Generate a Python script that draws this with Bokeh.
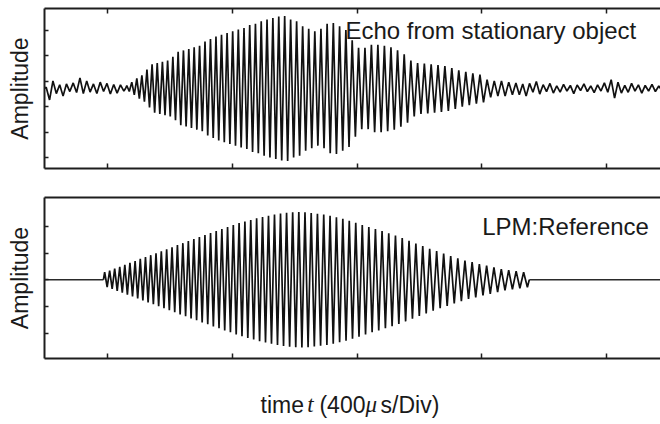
from bokeh.plotting import figure
from bokeh.models import LinearAxis, FixedTicker, Range1d, Label
from bokeh.layouts import column
from bokeh.embed import file_html
from bokeh.resources import INLINE

# ---------------- data (time in microseconds, 400 us per division) ----------------
x_ticks = [400, 800, 1200, 1600, 2000]
top_y_ticks = [-2.72, -1.72, -0.72, 0.28, 1.28, 2.28]
bottom_y_ticks = [-2, -1, 0, 1, 2]

# LPM chirp: first-cycle period (us) and relative period growth per cycle
chirp_period0 = 16.0
chirp_growth = 0.00607

# reference (LPM) signal: start time and per-cycle peak amplitude
ref_start = 386.0
ref_amp = [0.28, 0.34, 0.42, 0.48, 0.56, 0.63, 0.70, 0.78, 0.85, 0.92,
           0.99, 1.07, 1.14, 1.22, 1.30, 1.37, 1.45, 1.52, 1.60, 1.67,
           1.75, 1.82, 1.90, 1.97, 2.05, 2.12, 2.18, 2.24, 2.30, 2.35,
           2.40, 2.44, 2.48, 2.51, 2.53, 2.54, 2.53, 2.50, 2.47, 2.44,
           2.40, 2.34, 2.28, 2.21, 2.13, 2.05, 1.97, 1.90, 1.82, 1.74,
           1.66, 1.56, 1.46, 1.36, 1.26, 1.16, 1.07, 0.98, 0.89, 0.80,
           0.72, 0.66, 0.59, 0.53, 0.46, 0.40, 0.36, 0.32, 0.28]

# echo from stationary object: start time and per-cycle peak amplitude
echo_start = 457.0
echo_amp = [0.12, 0.25, 0.40, 0.52, 0.75, 0.95, 1.00, 1.05, 1.10, 1.25,
            1.45, 1.50, 1.55, 1.62, 1.68, 1.85, 1.95, 2.05, 2.12, 2.18,
            2.25, 2.32, 2.38, 2.50, 2.55, 2.65, 2.72, 2.78, 2.83, 2.85,
            2.72, 2.65, 2.45, 2.35, 2.25, 2.35, 2.55, 2.58, 2.45, 2.30,
            1.90, 1.60, 1.60, 1.72, 1.72, 1.68, 1.62, 1.50, 1.35, 1.10,
            1.00, 0.98, 0.95, 0.92, 0.88, 0.80, 0.72, 0.66, 0.60, 0.55,
            0.35, 0.30, 0.30, 0.25]

# background noise before and after the echo (half-cycle extremes)
noise_pre = [0.05, -0.45, 0.30, -0.20, 0.15, -0.30, 0.18, -0.12, 0.22, -0.16,
             0.42, -0.20, 0.30, -0.14, 0.18, -0.20, 0.25, -0.12, 0.20, -0.22,
             0.16, -0.18, 0.14, -0.10]
noise_post = [0.22, -0.25, 0.18, -0.30, 0.20, -0.15, 0.28, -0.22, 0.15, -0.12,
              0.20, -0.18, 0.10, -0.14, 0.16, -0.10, 0.12, -0.20, 0.14, -0.08,
              0.18, -0.12, 0.10, -0.16, 0.14, -0.10, 0.22, -0.15, 0.35, -0.38,
              0.25, -0.18, 0.12, -0.15, 0.20, -0.10, 0.14, -0.18, 0.12, -0.10,
              0.16, -0.12, 0.10]

# x-axis label pieces: (time position, text, font, style)
xlabel_pieces = [
    (890, "time", "Liberation Sans", "normal"),
    (1040, "t", "Liberation Serif", "italic"),
    (1079, "(400", "Liberation Sans", "normal"),
    (1227, "\u03bc", "Liberation Serif", "italic"),
    (1275, "s/Div)", "Liberation Sans", "normal"),
]

X0, X1 = 197.0, 2173.0
TRACE = "#111111"
AXC = "#1e1e1e"
TXT = "#1a1a1a"


def chirp_points(t_start, amps):
    ts, ys = [t_start], [0.0]
    t, T = t_start, chirp_period0
    for a in amps:
        ts += [t + T / 4, t + 3 * T / 4]
        ys += [a, -a]
        t += T
        T *= (1 + chirp_growth)
    ts.append(t)
    ys.append(0.0)
    return ts, ys, t


def noise_points(t0, t1, vals):
    dt = (t1 - t0) / len(vals)
    return [t0 + (i + 0.5) * dt for i in range(len(vals))], list(vals)


def style_axis(ax, ticks, tick_len=5):
    ax.ticker = FixedTicker(ticks=ticks)
    ax.minor_tick_line_color = None
    ax.major_tick_in = tick_len
    ax.major_tick_out = 0
    ax.major_label_overrides = {t: "" for t in ticks}
    ax.major_label_text_font_size = "1px"
    ax.major_label_standoff = 0
    ax.axis_line_width = 2
    ax.axis_line_color = AXC
    ax.major_tick_line_width = 1.5
    ax.major_tick_line_color = AXC


def make_fig(h, btop, bbottom, yr, x_range):
    p = figure(width=660, height=h, output_backend="svg", toolbar_location=None,
               x_range=x_range, y_range=Range1d(*yr),
               x_axis_location=None, y_axis_location=None,
               min_border_left=44, min_border_right=0,
               min_border_top=btop, min_border_bottom=bbottom)
    p.outline_line_color = None
    p.grid.grid_line_color = None
    p.background_fill_color = "white"
    p.border_fill_color = "white"
    return p


def add_left_axis(p, ticks):
    ax = LinearAxis(axis_label="Amplitude")
    style_axis(ax, ticks, 4)
    ax.axis_label_text_font = "Liberation Sans"
    ax.axis_label_text_font_size = "23px"
    ax.axis_label_text_font_style = "normal"
    ax.axis_label_text_color = TXT
    ax.axis_label_standoff = 12
    p.add_layout(ax, "left")


xr = Range1d(X0, X1)

# ---------------- top panel: echo ----------------
p1 = make_fig(182, 8, 14, (-3.15, 3.15), xr)
add_left_axis(p1, top_y_ticks)
bx = LinearAxis()
style_axis(bx, x_ticks)
p1.add_layout(bx, "below")
ax_top = LinearAxis()
style_axis(ax_top, x_ticks)
p1.add_layout(ax_top, "above")

pre_t, pre_y = noise_points(X0, echo_start, noise_pre)
e_t, e_y, e_end = chirp_points(echo_start, echo_amp)
post_t, post_y = noise_points(e_end, X1, noise_post)
top_t = [X0] + pre_t + e_t + post_t + [X1]
top_y = [0.0] + pre_y + e_y + post_y + [0.0]
p1.line(top_t, top_y, line_color=TRACE, line_width=1.7)

p1.add_layout(Label(x=1162.5, y=2.28, text="Echo from stationary object",
                    text_font="Liberation Sans", text_font_size="24px",
                    text_color=TXT, text_baseline="middle"))

# ---------------- bottom panel: LPM reference ----------------
p2 = make_fig(183, 15, 7, (-2.95, 3.08), xr)
add_left_axis(p2, bottom_y_ticks)
bx2 = LinearAxis()
style_axis(bx2, x_ticks)
p2.add_layout(bx2, "below")
ax_top2 = LinearAxis()
style_axis(ax_top2, [])
p2.add_layout(ax_top2, "above")

r_t, r_y, r_end = chirp_points(ref_start, ref_amp)
p2.line([X0, ref_start], [0, 0], line_color="#2a2a2a", line_width=1.6)
p2.line(r_t, r_y, line_color=TRACE, line_width=1.7)
p2.line([r_end, X1], [0, 0], line_color="#2a2a2a", line_width=1.6)

p2.add_layout(Label(x=1601, y=2.01, text="LPM:Reference",
                    text_font="Liberation Sans", text_font_size="24px",
                    text_color=TXT, text_baseline="middle"))

# ---------------- x-axis label strip ----------------
p3 = make_fig(59, 0, 0, (0, 59), xr)
for xp, txt, fnt, sty in xlabel_pieces:
    p3.add_layout(Label(x=xp, y=20, text=txt, text_font=fnt,
                        text_font_size="23px", text_font_style=sty,
                        text_color=TXT, text_baseline="middle"))

layout = column(p1, p2, p3, spacing=0)
open("out.html", "w").write(file_html(layout, INLINE))
